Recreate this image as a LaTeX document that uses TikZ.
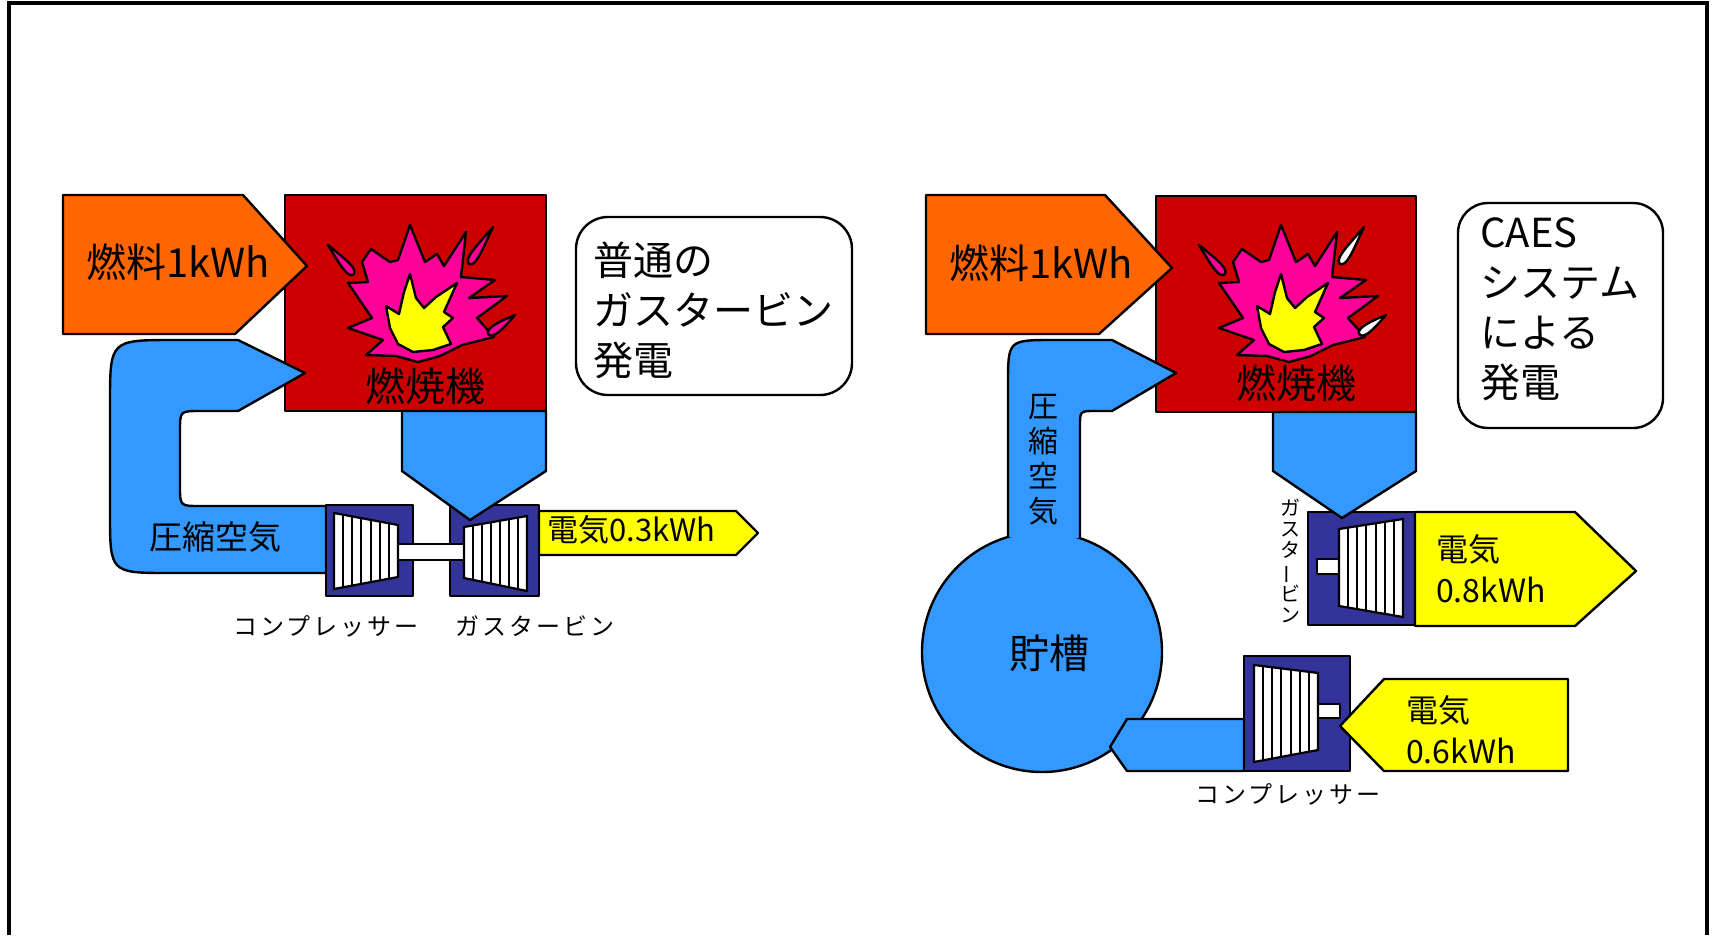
\documentclass[tikz,border=0pt]{standalone}
\usepackage{fontspec}
\setmainfont{Noto Sans CJK JP}
\usetikzlibrary{calc}

\definecolor{fuelorange}{HTML}{FF6600}
\definecolor{burnerred}{HTML}{CC0000}
\definecolor{airblue}{HTML}{3399FF}
\definecolor{machinenavy}{HTML}{333399}
\definecolor{powyellow}{HTML}{FFFF00}
\definecolor{flamepink}{HTML}{FF0099}

\tikzset{
  part/.style={draw=black, line width=2.4, line join=round},
  blade/.style={draw=black, line width=2.2, fill=white},
  bigtxt/.style={font=\fontsize{40}{50}\selectfont, inner sep=0},
  midtxt/.style={font=\fontsize{32}{41}\selectfont, inner sep=0},
  tagtxt/.style={font=\fontsize{24}{28}\selectfont\addfontfeatures{LetterSpace=12}, inner sep=0},
}

\begin{document}
\begin{tikzpicture}[x=1pt, y=-1pt]
  \useasboundingbox (0,0) rectangle (1715,935);
  \draw[line width=3.5] (9,935) -- (9,3) -- (1707,3) -- (1707,935);

  % ordinary gas turbine
  \draw[part, fill=burnerred] (285,195) rectangle (546,411);
  \draw[part, fill=fuelorange] (63,195) -- (243,195) -- (307,266) -- (235,334) -- (63,334) -- cycle;
  \draw[part, fill=airblue] (326,506) -- (200,506) .. controls (180,506) .. (180,486) -- (180,431)
    .. controls (180,411) .. (200,411) -- (238,411) -- (305,373) -- (238,340) -- (174,340)
    .. controls (110,340) .. (110,404) -- (110,513) .. controls (110,573) .. (170,573) -- (326,573) -- cycle;
  \draw[part, fill=machinenavy] (326,505) rectangle (413,596);
  \draw[part, fill=machinenavy] (450,505) rectangle (539,596);
  \draw[part, fill=white] (398,544) rectangle (464,560);
  \draw[part, fill=airblue] (402,411) -- (546,411) -- (546,471) -- (470,520) -- (402,471) -- cycle;
  \draw[part, fill=powyellow] (539,511) -- (736,511) -- (758,533) -- (736,555) -- (539,555) -- cycle;

  % CAES
  \draw[part, fill=burnerred] (1156,196) rectangle (1416,412);
  \draw[part, fill=fuelorange] (926,195) -- (1105,195) -- (1172,268) -- (1099,334) -- (926,334) -- cycle;
  \draw[part, fill=airblue] (1042,652) circle[radius=120];
  \draw[part, fill=airblue] (1008,537) -- (1008,385) .. controls (1008,340) .. (1053,340) -- (1112,340)
    -- (1176,373) -- (1112,411) -- (1095,411) .. controls (1080,411) .. (1080,426) -- (1080,538);
  \draw[part, fill=airblue] (1244,719) -- (1127,719) -- (1110,747) -- (1127,771) -- (1244,771) -- cycle;
  \draw[part, fill=machinenavy] (1308,512) rectangle (1415,625);
  \draw[part, fill=machinenavy] (1244,656) rectangle (1350,771);
  \draw[part, fill=white] (1317,559) rectangle (1339,574);
  \draw[part, fill=white] (1318,704) rectangle (1340,718);
  \draw[part, fill=airblue] (1273,412) -- (1416,412) -- (1416,471) -- (1342,518) -- (1273,471) -- cycle;
  \draw[part, fill=powyellow] (1415,512) -- (1575,512) -- (1636,571) -- (1575,626) -- (1415,626) -- cycle;
  \draw[part, fill=powyellow] (1568,679) -- (1568,771) -- (1384,771) -- (1340,726) -- (1384,679) -- cycle;

  % blades of compressors and turbines
  \foreach \xa/\ta/\ba/\xb/\tb/\bb in {334/513/589/398/525/577, 464/527/578/527/516/591,
      1339/529/606/1403/519/617, 1254/665/762/1318/673/750}{
    \draw[blade] (\xa,\ta) -- (\xb,\tb) -- (\xb,\bb) -- (\xa,\ba) -- cycle;
    \foreach \k in {1,...,6}
      \draw[line width=2] ($(\xa,\ta)!\k/7!(\xb,\tb)$) -- ($(\xa,\ba)!\k/7!(\xb,\bb)$);
  }

  % flames
  \foreach \dx/\dropcol in {0/flamepink, 871/white}{
    \begin{scope}[shift={(\dx,0)}]
      \draw[part, fill=flamepink] (410,225) -- (425,262) -- (437,254) -- (444,266) -- (466,232)
        -- (461,277) -- (495,280) -- (469,298) -- (507,296) -- (477,318) -- (494,337) -- (462,345)
        -- (440,356) -- (418,362) -- (396,356) -- (366,355) -- (383,340) -- (348,328) -- (372,318)
        -- (348,283) -- (368,282) -- (362,262) -- (371,249) -- (390,262) -- (398,260) -- cycle;
      \draw[part, fill=powyellow] (410,274) -- (416,298) -- (424,308) -- (436,297) -- (457,283)
        -- (444,312) -- (453,318) -- (443,327) -- (451,344) -- (433,350) -- (413,352) -- (398,344)
        -- (390,328) -- (386,306) -- (399,314) -- (404,292) -- cycle;
      \foreach \tx/\ty/\ang/\len/\col in {328/245/-49/37/flamepink, 493/227/-123/42/\dropcol,
          515/315/-144/31/\dropcol}
        \draw[part, fill=\col, shift={(\tx,\ty)}, rotate=\ang] (0,0)
          .. controls ({\len-14},4) and ({\len+1},7) .. ({\len+2},0)
          .. controls ({\len+1},-7) and ({\len-14},-4) .. (0,0) -- cycle;
    \end{scope}
  }

  % texts, left
  \node[bigtxt] (fuelL) at (178,262) {燃料1kWh};
  \node[bigtxt] (burnerL) at (425,386) {燃焼機};
  \node[midtxt, font=\fontsize{33}{41}\selectfont] (airL) at (215,537) {圧縮空気};
  \node[midtxt, anchor=west, font=\fontsize{31}{41}\selectfont] (powL) at (547,530) {電気0.3kWh};
  \node[tagtxt] (compL) at (326,626) {コンプレッサー};
  \node[tagtxt] (turbL) at (535,626) {ガスタービン};
  \draw[part, rounded corners=32, fill=white] (576,217) rectangle (852,395);
  \node[bigtxt, anchor=west, align=left] (noteL) at (593,310) {普通の\\ガスタービン\\発電};

  % texts, right
  \node[bigtxt] (fuelR) at (1041,263) {燃料1kWh};
  \node[bigtxt] (burnerR) at (1296,383) {燃焼機};
  \node[font=\fontsize{30}{35}\selectfont, inner sep=0, align=center] (airR) at (1043,460) {圧\\縮\\空\\気};
  \node[bigtxt] (tank) at (1049,653) {貯槽};
  \node[font=\fontsize{20}{21}\selectfont, inner sep=0, align=center] (turbR) at (1290,561)
    {ガ\\ス\\タ\\\rotatebox[origin=c]{90}{ー}\\ビ\\ン};
  \node[tagtxt] (compR) at (1288,794) {コンプレッサー};
  \node[midtxt, anchor=west, align=left] (powR1) at (1436,569) {電気\\0.8kWh};
  \node[midtxt, anchor=west, align=left] (powR2) at (1406,730) {電気\\0.6kWh};
  \draw[part, rounded corners=30, fill=white] (1458,203) rectangle (1663,428);
  \node[bigtxt, anchor=west, align=left] (noteR) at (1480,309) {CAES\\システム\\による\\発電};
\end{tikzpicture}
\end{document}
